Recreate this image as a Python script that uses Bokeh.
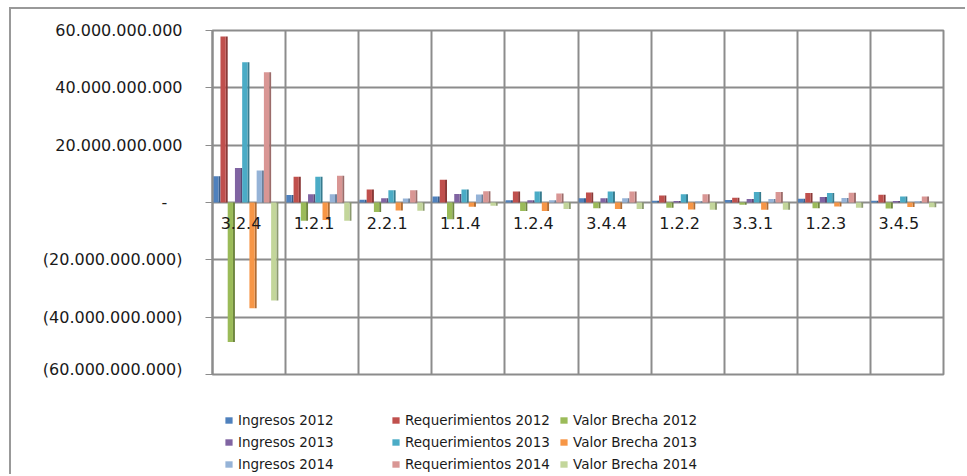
import numpy as np
from bokeh.plotting import figure
from bokeh.layouts import column
from bokeh.models import Range1d, FixedTicker, Legend, LegendItem, ColumnDataSource
from bokeh.core.properties import value
from bokeh.embed import file_html
from bokeh.resources import INLINE

# ---------------- data (values in pesos) ----------------
categories = ["3.2.4", "1.2.1", "2.2.1", "1.1.4", "1.2.4", "3.4.4", "1.2.2", "3.3.1", "1.2.3", "3.4.5"]
B = 1e9
ingresos_2012 = [9.2 * B, 2.6 * B, 1.0 * B, 2.1 * B, 0.8 * B, 1.5 * B, 0.6 * B, 0.9 * B, 1.3 * B, 0.6 * B]
requerimientos_2012 = [57.9 * B, 9.0 * B, 4.5 * B, 7.9 * B, 3.8 * B, 3.5 * B, 2.4 * B, 1.7 * B, 3.3 * B, 2.7 * B]
brecha_2012 = [-48.7 * B, -6.4 * B, -3.3 * B, -5.8 * B, -3.0 * B, -2.0 * B, -1.8 * B, -0.8 * B, -2.0 * B, -2.1 * B]
ingresos_2013 = [12.0 * B, 2.9 * B, 1.5 * B, 3.0 * B, 0.8 * B, 1.5 * B, 0.5 * B, 1.2 * B, 1.9 * B, 0.5 * B]
requerimientos_2013 = [48.9 * B, 9.0 * B, 4.3 * B, 4.5 * B, 3.8 * B, 3.8 * B, 2.9 * B, 3.7 * B, 3.3 * B, 2.1 * B]
brecha_2013 = [-36.9 * B, -6.1 * B, -2.8 * B, -1.5 * B, -3.0 * B, -2.3 * B, -2.4 * B, -2.5 * B, -1.4 * B, -1.6 * B]
ingresos_2014 = [11.2 * B, 2.9 * B, 1.4 * B, 2.8 * B, 0.8 * B, 1.5 * B, 0.4 * B, 1.2 * B, 1.6 * B, 0.4 * B]
requerimientos_2014 = [45.4 * B, 9.3 * B, 4.3 * B, 3.9 * B, 3.1 * B, 3.8 * B, 2.9 * B, 3.7 * B, 3.4 * B, 2.1 * B]
brecha_2014 = [-34.2 * B, -6.4 * B, -2.9 * B, -1.1 * B, -2.3 * B, -2.3 * B, -2.5 * B, -2.5 * B, -1.8 * B, -1.7 * B]

series_names = ["Ingresos 2012", "Requerimientos 2012", "Valor Brecha 2012",
                "Ingresos 2013", "Requerimientos 2013", "Valor Brecha 2013",
                "Ingresos 2014", "Requerimientos 2014", "Valor Brecha 2014"]
series_values = [ingresos_2012, requerimientos_2012, brecha_2012,
                 ingresos_2013, requerimientos_2013, brecha_2013,
                 ingresos_2014, requerimientos_2014, brecha_2014]
series_colors = ["#4F81BD", "#C0504D", "#9BBB59",
                 "#8064A2", "#4BACC6", "#F79646",
                 "#95B3D7", "#D99694", "#C3D69B"]

tick_values = [60_000_000_000, 40_000_000_000, 20_000_000_000, 0,
               -20_000_000_000, -40_000_000_000, -60_000_000_000]
tick_labels = ["60.000.000.000", "40.000.000.000", "20.000.000.000", "-\u00a0\u00a0\u00a0",
               "(20.000.000.000)", "(40.000.000.000)", "(60.000.000.000)"]


def darker(hex_color, f=0.7):
    h = hex_color.lstrip("#")
    r, g, b = (int(h[i:i + 2], 16) for i in (0, 2, 4))
    return "#%02x%02x%02x" % (int(r * f), int(g * f), int(b * f))


FONT = "DejaVu Sans"
GREY = "#8c8c8c"
W = 965

# ---------------- main chart ----------------
p = figure(width=W, height=378, output_backend="svg", toolbar_location=None,
           x_range=Range1d(0, 10), y_range=Range1d(-60e9, 60e9),
           x_axis_location=None,
           min_border_left=212, min_border_right=22, min_border_top=30, min_border_bottom=4)
p.border_fill_color = None
p.styles = {
    "background": "linear-gradient(#999,#999) 9px 7px / calc(100% - 9px) 2px no-repeat, "
                  "linear-gradient(#999,#999) 9px 7px / 2px calc(100% - 7px) no-repeat, #ffffff"
}

p.outline_line_color = GREY
p.outline_line_width = 2
p.background_fill_color = "white"

p.xgrid.ticker = FixedTicker(ticks=list(range(11)))
p.xgrid.grid_line_color = GREY
p.xgrid.grid_line_width = 2
p.ygrid.grid_line_color = GREY
p.ygrid.grid_line_width = 2

p.yaxis.ticker = FixedTicker(ticks=tick_values)
p.yaxis.major_label_overrides = {v: l for v, l in zip(tick_values, tick_labels)}
p.yaxis.axis_line_color = GREY
p.yaxis.axis_line_width = 2
p.yaxis.major_tick_line_color = GREY
p.yaxis.major_tick_line_width = 1
p.yaxis.major_tick_out = 7
p.yaxis.major_tick_in = 0
p.yaxis.minor_tick_line_color = None
p.yaxis.major_label_standoff = 23
p.yaxis.major_label_text_font = FONT
p.yaxis.major_label_text_font_size = "16px"
p.yaxis.major_label_text_color = "#1a1a1a"

idx = np.arange(len(categories))
slot = 0.099
front = 0.072
start = 0.01

for k, (name, vals, col) in enumerate(zip(series_names, series_values, series_colors)):
    left = idx + start + k * slot
    vals = np.array(vals, dtype=float)
    src = ColumnDataSource(dict(left=left, right=left + front, side_r=left + slot,
                                top=np.maximum(vals, 0), bottom=np.minimum(vals, 0)))
    p.quad(left="right", right="side_r", top="top", bottom="bottom", source=src,
           fill_color=darker(col, 0.72), line_color=None)
    p.quad(left="left", right="right", top="top", bottom="bottom", source=src,
           fill_color=col, line_color=None)

# category labels near the zero line
lab_src = ColumnDataSource(dict(x=idx + 0.39, y=np.zeros(len(categories)), t=categories))
p.text(x="x", y="y", text="t", source=lab_src, y_offset=20,
       text_font=value(FONT), text_font_size="16px", text_color="#1a1a1a",
       text_align="center", text_baseline="middle")

# ---------------- legend strip ----------------
lg = figure(width=W, height=96, output_backend="svg", toolbar_location=None,
            x_range=Range1d(0, 1), y_range=Range1d(0, 1),
            x_axis_location=None, y_axis_location=None,
            min_border_left=0, min_border_right=0, min_border_top=0, min_border_bottom=0)
lg.outline_line_color = None
lg.grid.visible = False
lg.border_fill_color = None
lg.background_fill_color = None
lg.styles = {
    "background": "linear-gradient(#999,#999) 9px 0px / 2px 100% no-repeat, #ffffff"
}

# legend-only renderers (one NaN row each, so nothing is drawn in the strip itself)
legend_renderers = []
for nm, col in zip(series_names, series_colors):
    r = lg.quad(left=[np.nan], right=[np.nan], top=[np.nan], bottom=[np.nan],
                fill_color=col, line_color=None)
    legend_renderers.append(r)

# frames of the two figures are aligned by the column, so x is measured from the plot-area left
col_x = [12, 179, 347]
for c in range(3):
    items = [LegendItem(label=series_names[r * 3 + c], renderers=[legend_renderers[r * 3 + c]])
             for r in range(3)]
    leg = Legend(items=items, location=(col_x[c], 2), orientation="vertical",
                 glyph_width=9, glyph_height=8, label_standoff=5, spacing=6,
                 label_height=16, padding=0, margin=0,
                 border_line_color=None, background_fill_alpha=0,
                 label_text_font=FONT, label_text_font_size="13.5px",
                 label_text_color="#1a1a1a")
    lg.add_layout(leg)

layout = column(p, lg, spacing=0)
open("out.html", "w").write(file_html(layout, INLINE))
